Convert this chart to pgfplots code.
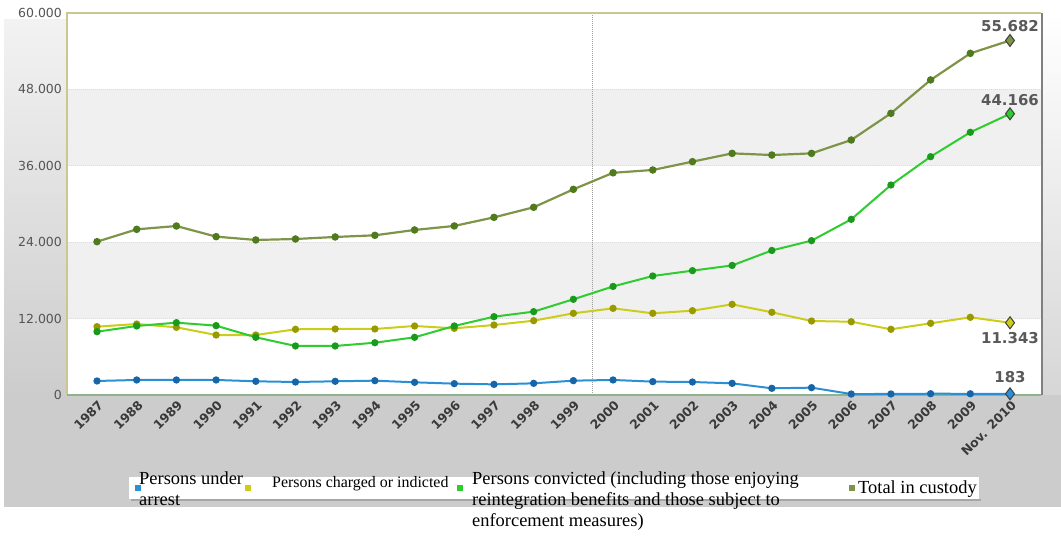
\documentclass[border=0pt]{standalone}
\usepackage{pgfplots}
\pgfplotsset{compat=1.18}
\usepackage{pgfplotstable}
\usepackage{fontspec}
\setmainfont{Liberation Serif}
\newfontfamily\dejavu{DejaVu Sans}

\definecolor{arrestC}{HTML}{2B8FD6}
\definecolor{arrestM}{HTML}{1565A8}
\definecolor{chargedC}{HTML}{CCCC1A}
\definecolor{chargedM}{HTML}{9A9A00}
\definecolor{convictC}{HTML}{2ECC2E}
\definecolor{convictM}{HTML}{1A9A1A}
\definecolor{totalC}{HTML}{7E9448}
\definecolor{totalM}{HTML}{4F7A1E}
\definecolor{band}{HTML}{F0F0F0}
\definecolor{panel}{HTML}{CCCCCC}
\definecolor{ticktxt}{HTML}{555555}
\definecolor{yeartxt}{HTML}{3A3A3A}
\definecolor{frameC}{HTML}{C8C890}
\definecolor{gridC}{HTML}{DCDCDC}

% Detained persons by legal status, 1987 -- Nov. 2010
\pgfplotstableread{
idx year arrest charged convicted total
0  1987 2200 10730  9940 24080
1  1988 2360 11150 10840 26020
2  1989 2360 10630 11360 26540
3  1990 2360  9420 10890 24870
4  1991 2150  9420  9060 24350
5  1992 2040 10320  7700 24500
6  1993 2150 10370  7700 24820
7  1994 2250 10370  8210 25080
8  1995 1990 10840  9060 25920
9  1996 1780 10470 10840 26550
10 1997 1670 10990 12300 27900
11 1998 1830 11670 13090 29480
12 1999 2250 12830 15030 32300
13 2000 2360 13610 17050 34900
14 2001 2100 12830 18690 35340
15 2002 2040 13240 19530 36650
16 2003 1830 14240 20350 37950
17 2004 1050 12990 22700 37690
18 2005 1150 11620 24240 37950
19 2006  150 11510 27590 40050
20 2007  160 10320 32980 44240
21 2008  200 11260 37430 49480
22 2009  190 12200 41260 53660
23 2010  183 11343 44166 55682
}\detained

\begin{document}
\begin{tikzpicture}[x=1bp,y=1bp]
\useasboundingbox (0,0) rectangle (1061,536);
\fill[white] (0,0) rectangle (1061,536);
% grey frame around the plotting area
\fill[panel] (4,29) rectangle (1061,141);
\shade[top color=white!95!black, bottom color=panel] (4,141) rectangle (66,516);
\shade[top color=white, bottom color=white!84!black] (1041,141) rectangle (1061,523);

\begin{axis}[
  at={(67bp,141bp)}, anchor=south west,
  scale only axis, width=974bp, height=382bp,
  xmin=-0.756, xmax=23.781, ymin=0, ymax=60000,
  clip=false,
  scaled y ticks=false,
  axis background/.style={fill=white},
  axis line style={draw=none},
  major tick length=0pt,
  ytick={0,12000,24000,36000,48000,60000},
  yticklabels={0,12.000,24.000,36.000,48.000,60.000},
  yticklabel style={font=\dejavu\fontsize{12.5}{14}\selectfont, text=ticktxt, anchor=east, inner sep=0pt, xshift=-5bp},
  xtick={0,...,23},
  xticklabels={1987,1988,1989,1990,1991,1992,1993,1994,1995,1996,1997,1998,1999,2000,2001,2002,2003,2004,2005,2006,2007,2008,2009,Nov. 2010},
  xticklabel style={font=\dejavu\bfseries\fontsize{12.5}{14}\selectfont, text=yeartxt, rotate=45, anchor=east, inner sep=0pt, xshift=-3bp, yshift=-8.5bp},
]
% alternating background bands
\fill[band] (axis cs:-0.756,12000) rectangle (axis cs:23.781,24000);
\fill[band] (axis cs:-0.756,36000) rectangle (axis cs:23.781,48000);
\foreach \g in {12000,24000,36000,48000}{
  \edef\tmp{\noexpand\draw[gridC, densely dotted, line width=1bp] (axis cs:-0.756,\g) -- (axis cs:23.781,\g);}\tmp
}
\draw[gray!75, densely dotted, line width=1bp] (axis cs:12.47,0) -- (axis cs:12.47,60000);

% plot frame
\draw[frameC, line width=1.2bp] (rel axis cs:0,0) -- (rel axis cs:0,1) -- (rel axis cs:1,1);
\draw[white!80!green!70!black, line width=1.2bp] (rel axis cs:0,0) -- (rel axis cs:1,0);
\draw[gray, line width=2.5bp] ([xshift=1bp]rel axis cs:1,0) -- ([xshift=1bp]rel axis cs:1,1);

\addplot[arrestC, line width=2bp, mark=*, mark size=2.6bp, mark options={draw=arrestM, fill=arrestM}]
  table[x=idx, y=arrest] {\detained};
\addplot[chargedC, line width=2bp, mark=*, mark size=2.6bp, mark options={draw=chargedM, fill=chargedM}]
  table[x=idx, y=charged] {\detained};
\addplot[convictC, line width=2bp, mark=*, mark size=2.6bp, mark options={draw=convictM, fill=convictM}]
  table[x=idx, y=convicted] {\detained};
\addplot[totalC, line width=2.2bp, mark=*, mark size=2.6bp, mark options={draw=totalM, fill=totalM}]
  table[x=idx, y=total] {\detained};

% highlighted latest values
\addplot[only marks, mark=diamond*, mark size=6bp, mark options={draw=black!75, fill=arrestC, line width=1bp}] coordinates {(23,183)};
\addplot[only marks, mark=diamond*, mark size=6bp, mark options={draw=black!75, fill=chargedC, line width=1bp}] coordinates {(23,11343)};
\addplot[only marks, mark=diamond*, mark size=6bp, mark options={draw=black!75, fill=convictC, line width=1bp}] coordinates {(23,44166)};
\addplot[only marks, mark=diamond*, mark size=6bp, mark options={draw=black!75, fill=totalC, line width=1bp}] coordinates {(23,55682)};

\tikzset{vallab/.style={font=\dejavu\bfseries\fontsize{15}{17}\selectfont, text=black!65, inner sep=0pt}}
\node[vallab, anchor=south, yshift=9bp] at (axis cs:23,55682) {55.682};
\node[vallab, anchor=south, yshift=8bp] at (axis cs:23,44166) {44.166};
\node[vallab, anchor=north, yshift=-9bp] at (axis cs:23,11343) {11.343};
\node[vallab, anchor=south, yshift=11bp] at (axis cs:23,183) {183};
\end{axis}

% legend
\fill[black!35] (131,35) rectangle (981,37);
\fill[white] (129,37) rectangle (979,59);
\tikzset{leg/.style={anchor=base west, inner sep=0pt, font=\fontsize{18.5}{20}\selectfont}}
\fill[arrestC] (135,45) rectangle (141,51);
\node[leg] at (139,51) {Persons under};
\node[leg] at (139,30) {arrest};
\fill[chargedC] (245,45) rectangle (251,51);
\node[leg, font=\fontsize{16}{18}\selectfont] at (272,48.5) {Persons charged or indicted};
\fill[convictC] (457,45) rectangle (463,51);
\node[leg] at (472,51) {Persons convicted (including those enjoying};
\node[leg] at (472,30) {reintegration benefits and those subject to};
\node[leg] at (472,9) {enforcement measures)};
\fill[totalC] (849,45) rectangle (855,51);
\node[leg] at (858,42) {Total in custody};
\end{tikzpicture}
\end{document}
